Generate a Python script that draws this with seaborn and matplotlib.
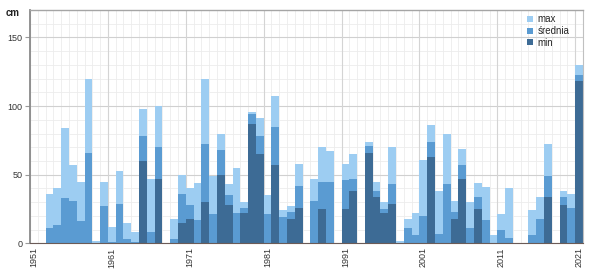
import numpy as np
import pandas as pd
import matplotlib
matplotlib.use("Agg")
import matplotlib.pyplot as plt
import seaborn as sns
from matplotlib.lines import Line2D

# ---- data (cm) ----
years = list(range(1951, 2022))
max_cm = [0, 0, 36, 40, 84, 57, 45, 120, 2, 45,
          12, 53, 15, 8, 98, 47, 100, 0, 18, 50,
          40, 44, 120, 49, 80, 43, 55, 30, 96, 91,
          35, 107, 24, 27, 58, 0, 47, 70, 67, 0,
          58, 65, 0, 74, 45, 30, 70, 2, 18, 22,
          61, 86, 38, 80, 31, 69, 30, 44, 41, 6,
          21, 40, 0, 0, 24, 34, 72, 0, 38, 36,
          130]
sr_cm = [0, 0, 11, 13, 33, 31, 16, 66, 0, 27,
         1, 29, 3, 1, 78, 8, 70, 0, 3, 36,
         28, 17, 72, 21, 68, 35, 22, 26, 94, 78,
         21, 85, 19, 23, 42, 0, 31, 45, 45, 0,
         46, 47, 0, 71, 38, 25, 43, 0, 11, 6,
         20, 74, 7, 43, 23, 57, 11, 34, 17, 0,
         10, 4, 0, 0, 6, 18, 49, 0, 34, 26,
         123]
min_cm = [0, 0, 0, 0, 0, 0, 0, 0, 0, 0,
          0, 0, 0, 0, 60, 0, 47, 0, 0, 15,
          18, 0, 30, 0, 50, 28, 0, 22, 87, 65,
          0, 57, 0, 18, 26, 0, 0, 25, 0, 0,
          25, 38, 0, 66, 34, 22, 29, 0, 0, 0,
          0, 63, 0, 0, 18, 47, 0, 25, 0, 0,
          0, 0, 0, 0, 0, 0, 34, 0, 28, 0,
          118]
series_labels = ["max", "średnia", "min"]
ytick_vals = [0, 50, 100, 150]
xtick_years = [1951, 1961, 1971, 1981, 1991, 2001, 2011, 2021]
unit_label = "cm"

colors = ["#9dcdf2", "#5a9bd2", "#3d6b95"]

sns.set_theme(style="white")
plt.rcParams["font.family"] = ["Liberation Sans", "DejaVu Sans"]

df = pd.DataFrame({"rok": years, "max": max_cm, "średnia": sr_cm, "min": min_cm})

fig = plt.figure(figsize=(5.91, 2.73), dpi=100)
ax = fig.add_axes([30 / 591, 1 - 243.3 / 273, 553 / 591, 233.3 / 273])
ax.set_axisbelow(True)

for col, c in zip(series_labels, colors):
    sns.barplot(data=df, x="rok", y=col, color=c, width=1.0, saturation=1,
                ax=ax, linewidth=0, errorbar=None)

n = len(years)
ax.set_xlim(-0.5, n - 0.5)
ax.set_ylim(0, 170)

# x ticks: labels at category centres, tick marks at boundaries
pos = [years.index(y) for y in xtick_years]
ax.set_xticks(pos)
ax.set_xticklabels([str(y) for y in xtick_years], rotation=90)
ax.set_xticks(np.arange(-0.5, n, 1.0), minor=True)
ax.tick_params(axis="x", which="major", length=0, pad=3, labelsize=6.5, colors="#333333")
ax.tick_params(axis="x", which="minor", length=2.5, width=0.6, color="#aaaaaa", direction="out")
ax.xaxis.grid(True, which="minor", color="#ececec", linewidth=0.6)
for p in pos:
    ax.axvline(p - 0.5, color="#d4d4d4", linewidth=0.8, zorder=0.6)

# y ticks
ax.set_yticks(ytick_vals)
ax.set_yticks(np.arange(0, 171, 10), minor=True)
ax.tick_params(axis="y", which="major", length=3.5, width=0.8, color="#999999",
               pad=2, labelsize=6.5, colors="#333333", left=True)
ax.tick_params(axis="y", which="major", color="#999999")
ax.tick_params(axis="y", which="minor", length=0)
ax.yaxis.grid(True, which="major", color="#d0d0d0", linewidth=0.8)
ax.yaxis.grid(True, which="minor", color="#ececec", linewidth=0.6)
ax.set_xlabel("")
ax.set_ylabel("")

for s in ["left", "top", "right", "bottom"]:
    ax.spines[s].set_visible(True)
ax.spines["left"].set_color("#8a8a8a")
ax.spines["left"].set_linewidth(1.3)
ax.spines["top"].set_color("#a5a5a5")
ax.spines["top"].set_linewidth(1.0)
ax.spines["right"].set_color("#c0c0c0")
ax.spines["right"].set_linewidth(0.8)
ax.spines["bottom"].set_color("#6b5b57")
ax.spines["bottom"].set_linewidth(0.8)

fig.text(6 / 591, 1 - 13 / 273, unit_label, fontsize=7, fontweight="bold",
         va="center", ha="left", color="#222222")

handles = [Line2D([0], [0], marker="s", linestyle="none", markersize=4.5,
                  markerfacecolor=c, markeredgewidth=0) for c in colors]
ax.legend(handles, series_labels, loc="upper left",
          bbox_to_anchor=(526 / 591, 1 - 14 / 273), bbox_transform=fig.transFigure,
          frameon=False, fontsize=7, handlelength=0.8, handletextpad=0.4,
          labelspacing=0.2, borderpad=0, borderaxespad=0)

fig.savefig("out.png", dpi=100)
